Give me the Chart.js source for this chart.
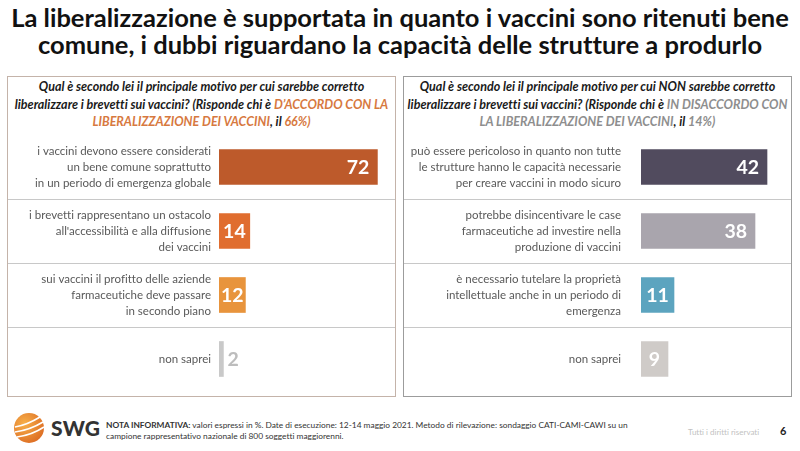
<!DOCTYPE html>
<html lang="it">
<head>
<meta charset="utf-8">
<title>SWG - liberalizzazione brevetti vaccini</title>
<script src="https://cdn.jsdelivr.net/npm/chart.js@4.4.1/dist/chart.umd.min.js"></script>
<style>
  html, body { margin: 0; padding: 0; background: #fff; }
  body { width: 800px; height: 451px; position: relative; overflow: hidden; font-family: Lato, "Open Sans", sans-serif; font-variant-ligatures: none; }
  .title { position: absolute; left: 0; top: 4px; width: 800px; text-align: center; font-weight: 700; font-size: 25.5px; line-height: 27px; color: #111; }
  .panel { position: absolute; top: 76px; width: 387px; height: 319px; border: 1px solid #999; }
  #panel-left { left: 7px; border-color: #c4b3a9; }
  #panel-right { left: 403px; border-color: #9c9c9c; }
  .question { position: absolute; left: 0; top: 1px; width: 387px; text-align: center; font-weight: 700; font-style: italic; font-size: 12.5px; line-height: 17.5px; color: #1a1a1a; }
  .orange { color: #d7793f; }
  .grey { color: #8e8e8e; }
  .chart-box { position: absolute; top: 135px; width: 387px; height: 256px; }
  #box-left { left: 8px; }
  #box-right { left: 404px; }
  .note { position: absolute; left: 106px; top: 420px; font-size: 8.35px; line-height: 11px; color: #333; }
  .note b { font-weight: 700; }
  .rights { position: absolute; left: 688px; top: 427px; font-size: 8px; color: #c2c2c2; }
  .page { position: absolute; left: 780px; top: 424px; font-size: 11px; font-weight: 700; color: #222; }
  .swg { position: absolute; left: 51px; top: 415px; font-size: 21px; font-weight: 900; color: #333; letter-spacing: 0.2px; }
  .logo { position: absolute; left: 13px; top: 412px; }
</style>
</head>
<body>
<div class="title">La liberalizzazione è supportata in quanto i vaccini sono ritenuti bene<br>comune, i dubbi riguardano la capacità delle strutture a produrlo</div>

<div class="panel" id="panel-left">
  <div class="question">Qual è secondo lei il principale motivo per cui sarebbe corretto<br>liberalizzare i brevetti sui vaccini? (Risponde chi è <span class="orange">D’ACCORDO CON LA<br>LIBERALIZZAZIONE DEI VACCINI</span>, il <span class="orange">66%)</span></div>
</div>
<div class="panel" id="panel-right">
  <div class="question">Qual è secondo lei il principale motivo per cui NON sarebbe corretto<br>liberalizzare i brevetti sui vaccini? (Risponde chi è <span class="grey">IN DISACCORDO CON<br>LA LIBERALIZZAZIONE DEI VACCINI</span>, il <span class="grey">14%)</span></div>
</div>

<div class="chart-box" id="box-left"><canvas id="leftChart"></canvas></div>
<div class="chart-box" id="box-right"><canvas id="rightChart"></canvas></div>

<svg class="logo" width="32" height="32" viewBox="0 0 32 32">
  <defs>
    <radialGradient id="g" cx="0.35" cy="0.35" r="0.75">
      <stop offset="0" stop-color="#f7b04a"/>
      <stop offset="1" stop-color="#dc6a22"/>
    </radialGradient>
  </defs>
  <circle cx="16" cy="16" r="15" fill="url(#g)"/>
  <path d="M2 15 Q14 13 27 5" stroke="#fff" stroke-width="1.6" fill="none"/>
  <path d="M2 20 Q17 18 30 10" stroke="#fff" stroke-width="1.6" fill="none"/>
  <path d="M4 25 Q19 23 31 15" stroke="#fff" stroke-width="1.6" fill="none"/>
</svg>
<div class="swg">SWG</div>
<div class="note"><b>NOTA INFORMATIVA:</b> valori espressi in %. Date di esecuzione: 12-14 maggio 2021. Metodo di rilevazione: sondaggio CATI-CAMI-CAWI su un<br>campione rappresentativo nazionale di 800 soggetti maggiorenni.</div>
<div class="rights">Tutti i diritti riservati</div>
<div class="page">6</div>

<script>
// ===== DATI =====
const leftLabels = [
  ['i vaccini devono essere considerati', 'un bene comune soprattutto', 'in un periodo di emergenza globale'],
  ['i brevetti rappresentano un ostacolo', "all'accessibilità e alla diffusione", 'dei vaccini'],
  ['sui vaccini il profitto delle aziende', 'farmaceutiche deve passare', 'in secondo piano'],
  'non saprei'
];
const leftValues = [72, 14, 12, 2];
const leftColors = ['#bd5a2b', '#e06d2f', '#e8943c', '#c9c9c9'];

const rightLabels = [
  ['può essere pericoloso in quanto non tutte', 'le strutture hanno le capacità necessarie', 'per creare vaccini in modo sicuro'],
  ['potrebbe disincentivare le case', 'farmaceutiche ad investire nella', 'produzione di vaccini'],
  ['è necessario tutelare la proprietà', 'intellettuale anche in un periodo di', 'emergenza'],
  'non saprei'
];
const rightValues = [42, 38, 11, 9];
const rightColors = ['#514b5e', '#a9a5ad', '#5ca4bf', '#cfcbc8'];

// ===== PLUGIN: etichette valori + separatori =====
const valueLabels = {
  id: 'valueLabels',
  afterDatasetsDraw(chart) {
    const ctx = chart.ctx;
    const meta = chart.getDatasetMeta(0);
    ctx.save();
    ctx.font = 'bold 19.5px Lato, sans-serif';
    ctx.textBaseline = 'middle';
    meta.data.forEach((bar, i) => {
      const text = String(chart.data.datasets[0].data[i]);
      const w = ctx.measureText(text).width;
      const barW = bar.x - bar.base;
      if (barW >= w + 20) {
        ctx.textAlign = 'right';
        ctx.fillStyle = '#fff';
        ctx.fillText(text, bar.x - 8, bar.y + 1);
      } else if (barW >= w) {
        ctx.textAlign = 'center';
        ctx.fillStyle = '#fff';
        ctx.fillText(text, (bar.x + bar.base) / 2, bar.y + 1);
      } else {
        ctx.textAlign = 'left';
        ctx.fillStyle = '#bdbdbd';
        ctx.fillText(text, bar.x + 4, bar.y + 1);
      }
    });
    ctx.restore();
  }
};

const rowLines = {
  id: 'rowLines',
  beforeDatasetsDraw(chart) {
    const ctx = chart.ctx;
    const y = chart.scales.y;
    ctx.save();
    ctx.strokeStyle = '#c8c8c8';
    ctx.lineWidth = 1;
    for (let i = 1; i < y.ticks.length; i++) {
      const py = Math.round((y.getPixelForTick(i - 1) + y.getPixelForTick(i)) / 2) + 0.5;
      ctx.beginPath();
      ctx.moveTo(0, py);
      ctx.lineTo(chart.width, py);
      ctx.stroke();
    }
    ctx.restore();
  }
};

// ===== GRAFICI =====
function makeChart(id, labels, values, colors, max, axisWidth, pad) {
  return new Chart(document.getElementById(id), {
    type: 'bar',
    data: { labels: labels, datasets: [{ data: values, backgroundColor: colors, barThickness: 35 }] },
    options: {
      indexAxis: 'y',
      responsive: true,
      maintainAspectRatio: false,
      animation: false,
      layout: { padding: 0 },
      plugins: { legend: { display: false }, tooltip: { enabled: false } },
      scales: {
        x: { display: false, min: 0, max: max },
        y: {
          grid: { display: false, drawTicks: false },
          border: { display: false },
          ticks: { padding: pad, color: '#595959', font: { family: 'Lato', size: 11.5, lineHeight: 1.4 } },
          afterFit: scale => {
            scale.width = axisWidth;
            scale.paddingTop = 0;
            scale.paddingBottom = 0;
          }
        }
      }
    },
    plugins: [rowLines, valueLabels]
  });
}

makeChart('leftChart', leftLabels, leftValues, leftColors, 80, 211, 8);
makeChart('rightChart', rightLabels, rightValues, rightColors, 50, 237, 20);
</script>
</body>
</html>
